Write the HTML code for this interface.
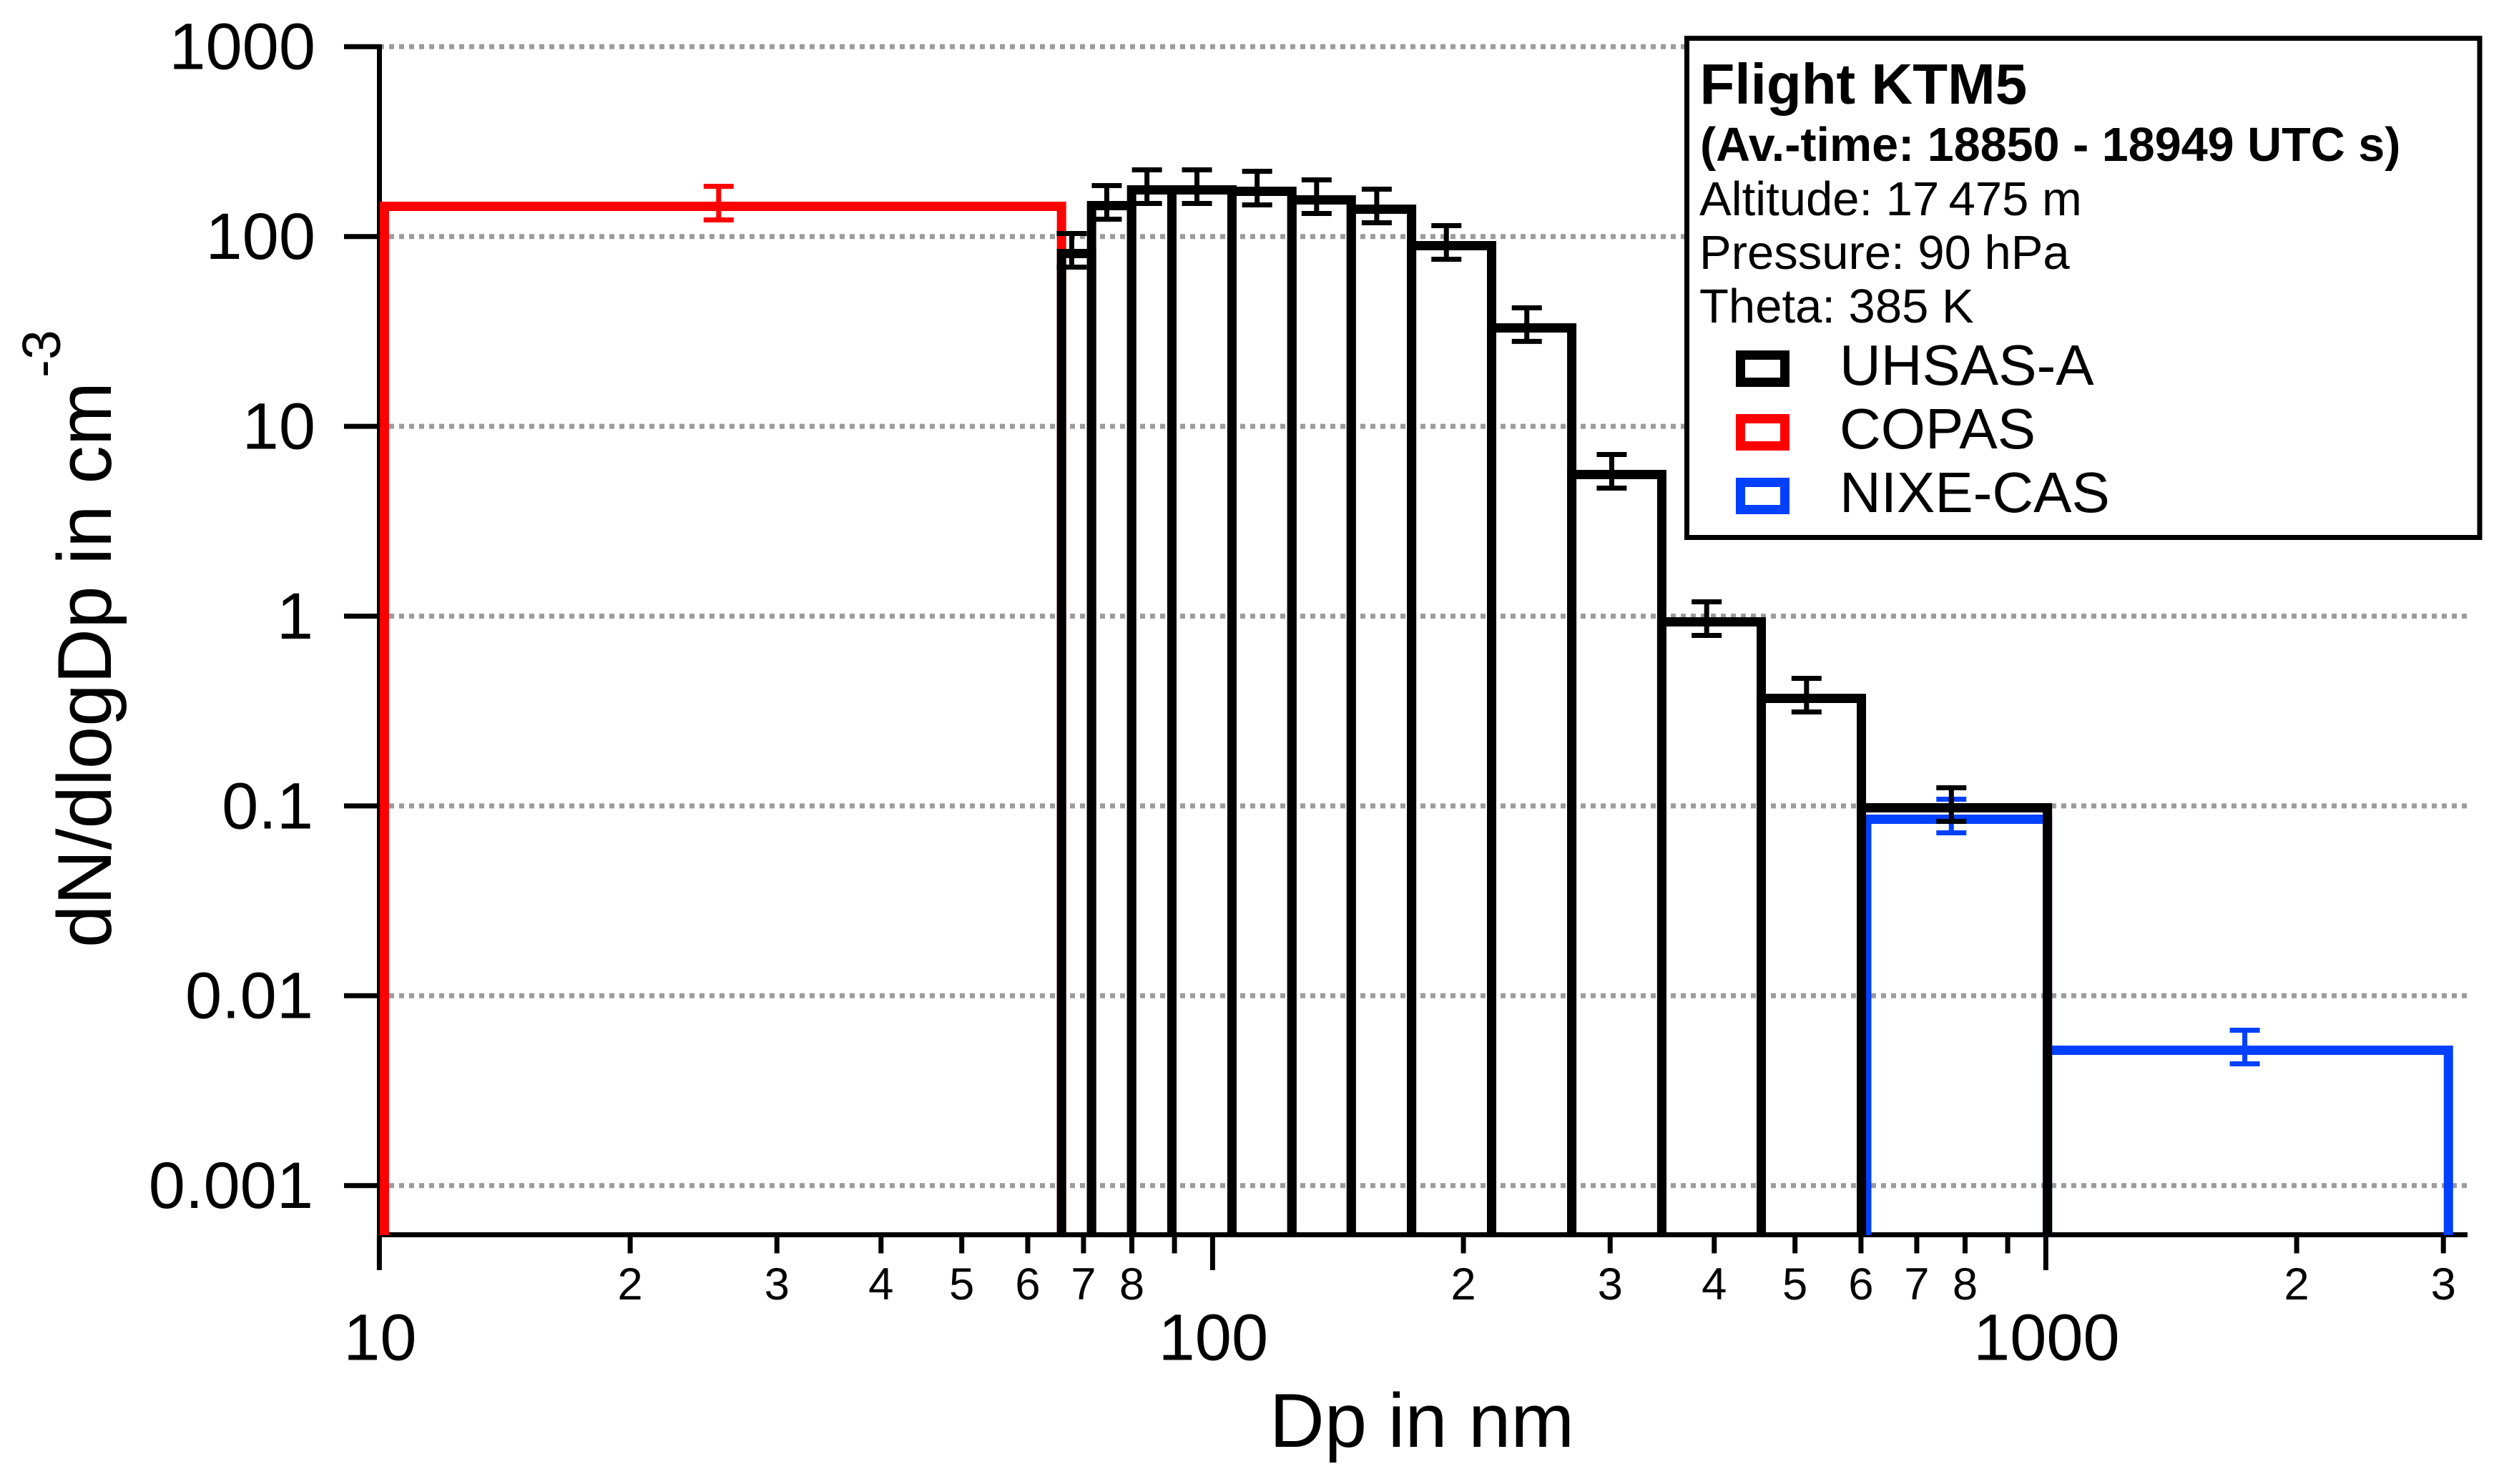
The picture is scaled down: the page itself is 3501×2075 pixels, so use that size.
<!DOCTYPE html>
<html lang="en">
<head>
<meta charset="utf-8">
<title>Flight KTM5 size distribution</title>
<style>
html,body{margin:0;padding:0;background:#fff;}
body{width:3501px;height:2075px;overflow:hidden;}
svg{display:block;}
text{font-family:"Liberation Sans",Arial,sans-serif;fill:#000;}
</style>
</head>
<body>
<svg id="chart" xmlns="http://www.w3.org/2000/svg" width="3501" height="2075" viewBox="0 0 3501 2075">
  <rect x="0" y="0" width="3501" height="2075" fill="#fff"/>
  <g id="grid"></g>
  <g id="axes"></g>
  <g id="bins"></g>
  <g id="errs"></g>
  <text x="1988" y="2023" font-size="106.5" text-anchor="middle">Dp in nm</text>
  <text transform="translate(155,1325) rotate(-90)" font-size="107">dN/dlogDp in cm</text>
  <text transform="translate(84,528) rotate(-90)" font-size="75">-3</text>
  <g>
    <rect x="2358.5" y="53.5" width="1108.5" height="698" fill="#fff" stroke="#000" stroke-width="7"/>
    <text x="2376.5" y="145" font-size="80" font-weight="bold">Flight KTM5</text>
    <text x="2377" y="225" font-size="66.5" font-weight="bold">(Av.-time: 18850 - 18949 UTC s)</text>
    <text x="2376" y="301" font-size="67">Altitude: 17&#8201;475 m</text>
    <text x="2376" y="376" font-size="67">Pressure: 90 hPa</text>
    <text x="2376" y="451" font-size="67">Theta: 385 K</text>
    <rect x="2433.5" y="496.5" width="62" height="38" fill="#fff" stroke="#000" stroke-width="13"/>
    <text x="2572" y="538" font-size="80">UHSAS-A</text>
    <rect x="2433.5" y="585.5" width="62" height="38" fill="#fff" stroke="#ff0000" stroke-width="13"/>
    <text x="2572" y="627" font-size="80">COPAS</text>
    <rect x="2433.5" y="674.5" width="62" height="38" fill="#fff" stroke="#0040ff" stroke-width="13"/>
    <text x="2572" y="716" font-size="80">NIXE-CAS</text>
  </g>
</svg>
<script>
// ----- Data (size in nm, dN/dlogDp in cm^-3) -----
const yTicks = [1000, 100, 10, 1, 0.1, 0.01, 0.001];
const yTickLabels = ['1000', '100', '10', '1', '0.1', '0.01', '0.001'];
const xMajorTicks = [10, 100, 1000];
const xMajorLabels = ['10', '100', '1000'];
const xMinorTicks = [20, 30, 40, 50, 60, 70, 80, 90, 200, 300, 400, 500, 600, 700, 800, 900, 2000, 3000];
const xMinorLabels = ['2', '3', '4', '5', '6', '7', '8', '', '2', '3', '4', '5', '6', '7', '8', '', '2', '3'];

const uhsasEdges = [65.87, 71.57, 79.95, 89.36, 105.5, 124.5, 146.7, 173.3, 216.2, 269.8, 346.0, 455.5, 600.7, 1004.5];
const uhsasValues = [81.3, 145.5, 176.1, 176.1, 173.0, 156.0, 139.3, 89.5, 33.0, 5.572, 0.933, 0.3688, 0.09777];
const uhsasErrX = [67.75, 74.64, 83.41, 95.77, 113.1, 133.3, 157.4, 190.8, 238.3, 301.3, 391.7, 516.2, 770.2];
const uhsasErrHigh = [103.7, 185.5, 224.5, 224.5, 220.6, 198.8, 177.6, 114.1, 42.1, 7.105, 1.1896, 0.4702, 0.12465];
const uhsasErrLow = [69.0, 123.4, 149.3, 149.3, 146.7, 132.2, 118.1, 75.9, 28.0, 4.725, 0.7912, 0.3127, 0.08291];

const copasEdges = [10.14, 65.87];
const copasValues = [144.2];
const copasErrX = [25.54];
const copasErrHigh = [183.9];
const copasErrLow = [122.3];

const nixeEdges = [609.6, 1004.5, 3042];
const nixeValues = [0.08509, 0.005163];
const nixeErrX = [770.2, 1733];
const nixeErrHigh = [0.1085, 0.006583];
const nixeErrLow = [0.07216, 0.004379];

// ----- Axis functions -----
const SVGNS = 'http://www.w3.org/2000/svg';
function xScale(d) { return 530.4 + (Math.log10(d) - 1) * 1165; }
function yScale(v) { return 65.3 + (3 - Math.log10(v)) * 265.4; }
const AXIS_Y = 1726.5;
const AXIS_X = 530.5;
const RIGHT_END = 3450;

function make(tag, parent, attrs, text) {
  const el = document.createElementNS(SVGNS, tag);
  for (const k in attrs) el.setAttribute(k, attrs[k]);
  if (text !== undefined) el.textContent = text;
  parent.appendChild(el);
  return el;
}

const gridG = document.getElementById('grid');
const axesG = document.getElementById('axes');
const binsG = document.getElementById('bins');
const errsG = document.getElementById('errs');

// Gridlines and y axis ticks
yTicks.forEach(function (v, i) {
  const y = yScale(v);
  const gl = make('line', gridG, {x1: 530, x2: RIGHT_END, y1: y, y2: y, stroke: '#9c9c9c', 'stroke-width': 7, 'stroke-dasharray': '7 7'});
  
  
  const t = make('line', axesG, {x1: 481, x2: 530, y1: y, y2: y, stroke: '#000', 'stroke-width': 7});
  
  
  const endsInOne = yTickLabels[i].slice(-1) === '1';
  const lab = make('text', axesG, {x: endsInOne ? 438 : 441, y: y + 31.4, 'font-size': 92, 'text-anchor': 'end'}, yTickLabels[i]);
  
  
});

// X axis ticks
xMajorTicks.forEach(function (d, i) {
  const x = xScale(d);
  const t = make('line', axesG, {x1: x, x2: x, y1: AXIS_Y, y2: 1776, stroke: '#000', 'stroke-width': 7});
  
  
  const lab = make('text', axesG, {x: x + 1, y: 1901.5, 'font-size': 92, 'text-anchor': 'middle'}, xMajorLabels[i]);
  
  
});
xMinorTicks.forEach(function (d, i) {
  const x = xScale(d);
  const t = make('line', axesG, {x1: x, x2: x, y1: AXIS_Y, y2: 1752.5, stroke: '#000', 'stroke-width': 7});
  
  
  if (xMinorLabels[i]) {
    const lab = make('text', axesG, {x: x, y: 1817, 'font-size': 63.5, 'text-anchor': 'middle'}, xMinorLabels[i]);
    
    
  }
});

// Axis lines
const xAxisLine = make('line', axesG, {x1: 527, x2: RIGHT_END, y1: AXIS_Y, y2: AXIS_Y, stroke: '#000', 'stroke-width': 7});


const yAxisLine = make('line', axesG, {x1: AXIS_X, x2: AXIS_X, y1: 62, y2: AXIS_Y, stroke: '#000', 'stroke-width': 7});



// Histogram bins
function drawBins(edges, values, color, name) {
  values.forEach(function (v, i) {
    const x0 = xScale(edges[i]);
    const x1 = xScale(edges[i + 1]);
    const y = yScale(v);
    const base = 1727;
    const p = make('path', binsG, {d: 'M' + x0 + ',' + base + ' L' + x0 + ',' + y + ' L' + x1 + ',' + y + ' L' + x1 + ',' + base, fill: 'none', stroke: color, 'stroke-width': 13, 'stroke-linejoin': 'miter', 'stroke-miterlimit': 10});
    
    
  });
}
drawBins(copasEdges, copasValues, '#ff0000', 'copas');
drawBins(nixeEdges, nixeValues, '#0040ff', 'nixe-cas');
drawBins(uhsasEdges, uhsasValues, '#000', 'uhsas');

// Error bars
function drawErrs(xs, highs, lows, color, name) {
  xs.forEach(function (d, i) {
    const x = xScale(d);
    const yh = yScale(highs[i]);
    const yl = yScale(lows[i]);
    const path = 'M' + x + ',' + yh + ' L' + x + ',' + yl +
      ' M' + (x - 21) + ',' + yh + ' L' + (x + 21) + ',' + yh +
      ' M' + (x - 21) + ',' + yl + ' L' + (x + 21) + ',' + yl;
    const p = make('path', errsG, {d: path, fill: 'none', stroke: color, 'stroke-width': 7});
    
    
  });
}
drawErrs(copasErrX, copasErrHigh, copasErrLow, '#ff0000', 'copas');
drawErrs(nixeErrX, nixeErrHigh, nixeErrLow, '#0040ff', 'nixe-cas');
drawErrs(uhsasErrX, uhsasErrHigh, uhsasErrLow, '#000', 'uhsas');
</script>
</body>
</html>
